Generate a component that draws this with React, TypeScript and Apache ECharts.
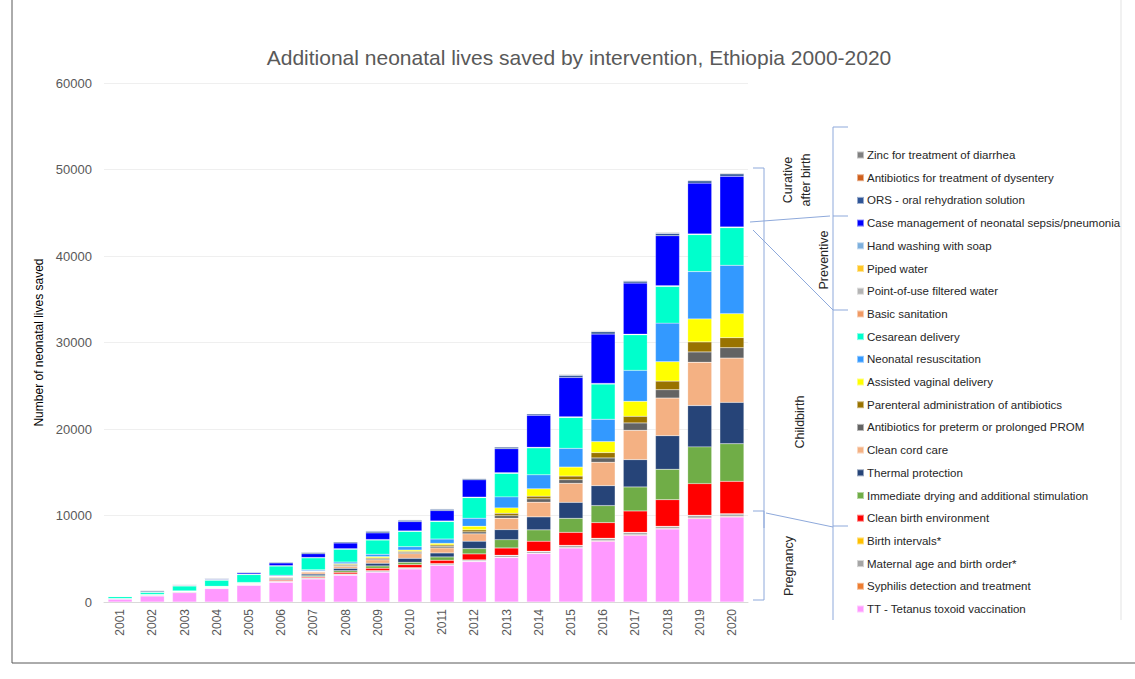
import React, { useEffect, useRef } from "react";
import * as echarts from "echarts";

const years = ["2001","2002","2003","2004","2005","2006","2007","2008","2009","2010","2011","2012","2013","2014","2015","2016","2017","2018","2019","2020"];

const yTicks = [0, 10000, 20000, 30000, 40000, 50000, 60000];

// bottom to top stacking order
const tetanus = [350, 695, 1080, 1545, 1930, 2280, 2660, 3090, 3440, 3820, 4240, 4670, 5130, 5600, 6240, 7020, 7710, 8440, 9640, 9830];
const syphilis = [10, 15, 20, 25, 30, 30, 35, 40, 40, 40, 40, 40, 45, 50, 50, 60, 60, 60, 70, 70];
const maternalAge = [15, 80, 70, 50, 40, 70, 90, 90, 120, 90, 130, 130, 190, 180, 210, 240, 240, 200, 270, 260];
const birthIntervals = [5, 20, 25, 25, 10, 15, 25, 20, 30, 20, 30, 30, 35, 40, 50, 50, 50, 50, 50, 50];
const cleanBirth = [5, 10, 15, 25, 50, 115, 115, 190, 270, 350, 385, 690, 850, 1160, 1500, 1810, 2465, 3080, 3660, 3740];
const drying = [5, 10, 20, 50, 60, 100, 115, 190, 270, 270, 385, 620, 960, 1310, 1620, 1965, 2775, 3510, 4240, 4350];
const thermal = [5, 10, 15, 20, 30, 120, 190, 270, 310, 460, 460, 850, 1160, 1500, 1850, 2310, 3160, 3890, 4780, 4780];
const cordCare = [5, 10, 15, 20, 30, 130, 230, 230, 390, 540, 580, 850, 1310, 1700, 2200, 2700, 3390, 4350, 5010, 5120];
const prom = [2, 5, 5, 10, 15, 40, 50, 115, 115, 150, 190, 230, 310, 385, 420, 500, 850, 960, 1190, 1200];
const parenteral = [2, 5, 5, 10, 15, 40, 50, 115, 115, 115, 150, 230, 270, 310, 420, 620, 770, 1000, 1160, 1160];
const assistedVaginal = [2, 5, 5, 10, 15, 40, 50, 80, 150, 150, 190, 420, 620, 850, 1040, 1270, 1730, 2235, 2660, 2775];
const resuscitation = [5, 10, 15, 25, 30, 115, 115, 190, 270, 390, 500, 925, 1270, 1620, 2160, 2580, 3580, 4470, 5470, 5590];
const cesarean = [230, 270, 580, 730, 925, 1080, 1390, 1500, 1660, 1780, 2040, 2390, 2740, 3120, 3580, 4080, 4120, 4240, 4280, 4360];
const sanitation = [5, 5, 5, 5, 10, 10, 10, 15, 15, 15, 20, 20, 25, 25, 30, 30, 30, 35, 35, 35];
const filteredWater = [2, 2, 2, 2, 5, 5, 5, 5, 5, 5, 5, 5, 5, 5, 5, 5, 5, 5, 5, 5];
const pipedWater = [2, 2, 2, 2, 5, 5, 5, 5, 5, 5, 5, 5, 5, 5, 5, 5, 5, 5, 5, 5];
const handWashing = [5, 5, 5, 5, 10, 10, 15, 15, 15, 20, 20, 20, 25, 25, 30, 30, 30, 35, 35, 35];
const caseManagement = [10, 20, 40, 60, 150, 310, 425, 660, 770, 1080, 1200, 2000, 2775, 3700, 4550, 5700, 5900, 5780, 5860, 5860];
const ors = [40, 120, 80, 100, 90, 100, 160, 130, 190, 160, 160, 140, 190, 160, 250, 270, 220, 270, 270, 270];
const dysentery = [5, 10, 5, 10, 10, 10, 20, 20, 30, 20, 20, 20, 25, 25, 30, 35, 30, 40, 40, 40];
const zinc = [20, 60, 30, 40, 20, 40, 50, 40, 50, 50, 50, 40, 55, 45, 70, 80, 60, 80, 80, 80];

const seriesNames = [
  "TT - Tetanus toxoid vaccination",
  "Syphilis detection and treatment",
  "Maternal age and birth order*",
  "Birth intervals*",
  "Clean birth environment",
  "Immediate drying and additional stimulation",
  "Thermal protection",
  "Clean cord care",
  "Antibiotics for preterm or prolonged PROM",
  "Parenteral administration of antibiotics",
  "Assisted vaginal delivery",
  "Neonatal resuscitation",
  "Cesarean delivery",
  "Basic sanitation",
  "Point-of-use filtered water",
  "Piped water",
  "Hand washing with soap",
  "Case management of neonatal sepsis/pneumonia",
  "ORS - oral rehydration solution",
  "Antibiotics for treatment of dysentery",
  "Zinc for treatment of diarrhea",
];

const seriesValues = [
  tetanus, syphilis, maternalAge, birthIntervals, cleanBirth, drying, thermal, cordCare,
  prom, parenteral, assistedVaginal, resuscitation, cesarean, sanitation, filteredWater,
  pipedWater, handWashing, caseManagement, ors, dysentery, zinc,
];

const seriesColors = [
  "#FF99FF", "#ED7D31", "#A5A5A5", "#FFC000", "#FF0000", "#70AD47", "#264478", "#F4B183",
  "#636363", "#997300", "#FFFF00", "#3399FF", "#00FFCC", "#F09A64", "#B4B4B4",
  "#FFC727", "#7CAFDD", "#0000FF", "#2F5597", "#D0601C", "#808080",
];

const FONT = "'Liberation Sans', Arial, sans-serif";
const LINE = "#8EA9DB";

export default function App() {
  const ref = useRef<HTMLDivElement>(null);

  useEffect(() => {
    if (!ref.current) return;
    const chart = echarts.init(ref.current, undefined, { renderer: "svg" });

    const series = seriesNames.map((name, i) => ({
      name,
      type: "bar" as const,
      stack: "total",
      barWidth: 24,
      itemStyle: { color: seriesColors[i], borderColor: "rgba(255,255,255,0.5)", borderWidth: 0.4 },
      data: seriesValues[i],
    }));

    const line = (x1: number, y1: number, x2: number, y2: number) => ({
      type: "line",
      shape: { x1, y1, x2, y2 },
      style: { stroke: LINE, lineWidth: 1 },
      silent: true,
    });

    const vtext = (text: string, x: number, y: number) => ({
      type: "text",
      x,
      y,
      rotation: Math.PI / 2,
      style: {
        text,
        fill: "#262626",
        font: `12.5px ${FONT}`,
        align: "center",
        verticalAlign: "middle",
        lineHeight: 18,
      },
      silent: true,
    });

    chart.setOption({
      animation: false,
      backgroundColor: "#ffffff",
      title: {
        text: "Additional neonatal lives saved by intervention, Ethiopia 2000-2020",
        left: 574,
        textAlign: "center",
        top: 42,
        textStyle: { fontFamily: FONT, fontSize: 21, fontWeight: "normal", color: "#595959" },
      },
      grid: { left: 104, right: 387, top: 83, bottom: 77 },
      legend: {
        orient: "vertical",
        left: 851,
        top: 143,
        itemWidth: 7,
        itemHeight: 7,
        itemGap: 8.7,
        icon: "rect",
        data: [...seriesNames].reverse(),
        textStyle: { fontFamily: FONT, fontSize: 11.5, color: "#262626", lineHeight: 14, padding: [0, 0, 0, -2] },
        selectedMode: false,
      },
      xAxis: {
        type: "category",
        data: years,
        axisTick: { show: false },
        axisLine: { lineStyle: { color: "#D9D9D9" } },
        axisLabel: { rotate: 90, color: "#595959", fontFamily: FONT, fontSize: 12, margin: 7 },
      },
      yAxis: {
        type: "value",
        min: yTicks[0],
        max: yTicks[yTicks.length - 1],
        interval: yTicks[1] - yTicks[0],
        name: "Number of neonatal lives saved",
        nameLocation: "middle",
        nameGap: 57,
        nameTextStyle: { fontFamily: FONT, fontSize: 12, color: "#000000" },
        axisLine: { show: false },
        axisTick: { show: false },
        splitLine: { lineStyle: { color: "#EFEFEF" } },
        axisLabel: {
          color: "#595959",
          fontFamily: FONT,
          fontSize: 13,
          margin: 12,
          formatter: (v: number) => String(v),
        },
      },
      series,
      graphic: [
        // frame
        { type: "line", shape: { x1: 12, y1: 663, x2: 1135, y2: 663 }, style: { stroke: "#595959", lineWidth: 1 }, silent: true },
        { type: "line", shape: { x1: 12, y1: 0, x2: 12, y2: 663 }, style: { stroke: "#595959", lineWidth: 1 }, silent: true },
        { type: "line", shape: { x1: 1121, y1: 0, x2: 1121, y2: 620 }, style: { stroke: "#E3E3E3", lineWidth: 1 }, silent: true },
        // brackets beside bars
        line(753, 168, 764, 168),
        line(764, 168, 764, 528),
        line(750, 222, 830, 216),
        line(753, 230, 833, 310),
        line(753, 511, 764, 511),
        line(764, 511, 764, 600),
        line(753, 600, 764, 600),
        line(766, 513, 833, 527),
        // legend bracket
        line(833, 127, 848, 127),
        line(833, 127, 833, 620),
        line(833, 216, 848, 216),
        line(833, 310, 848, 310),
        line(833, 526, 848, 526),
        // group labels
        vtext("Curative\nafter birth", 797, 180),
        vtext("Preventive", 824, 260),
        vtext("Childbirth", 800, 422),
        vtext("Pregnancy", 789, 566),
      ],
    });

    return () => chart.dispose();
  }, []);

  return (
    <div
      ref={ref}
      style={{ position: "absolute", left: 0, top: 0, width: 1135, height: 679 }}
    />
  );
}
